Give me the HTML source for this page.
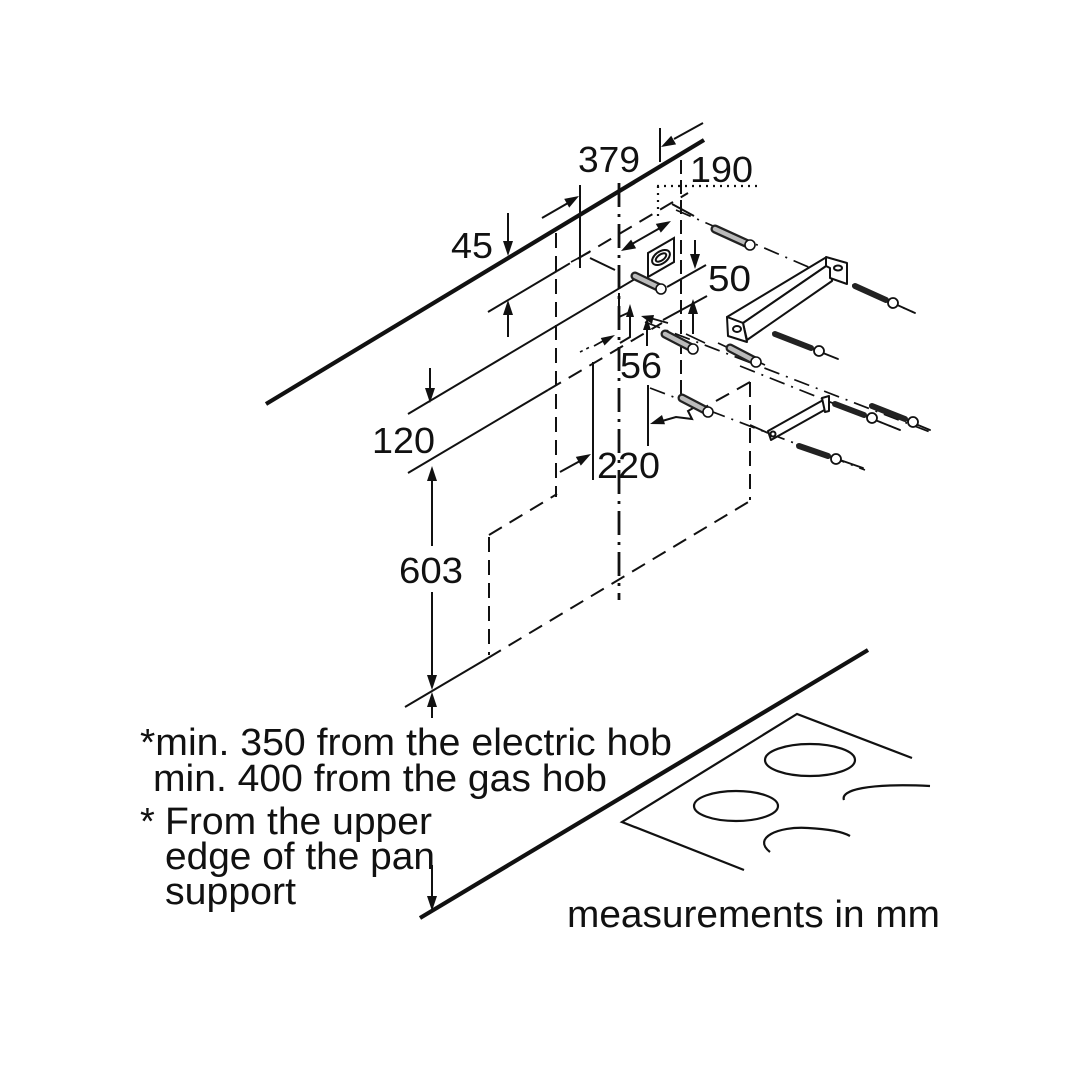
<!DOCTYPE html>
<html><head><meta charset="utf-8"><style>
html,body{margin:0;padding:0;background:#fff;}
svg{display:block;}
text{font-family:"Liberation Sans",Arial,sans-serif;fill:#111;}
</style></head><body>
<svg width="1080" height="1080" viewBox="0 0 1080 1080" xmlns="http://www.w3.org/2000/svg">
<rect width="1080" height="1080" fill="#fff"/>
<g stroke="#111" fill="none" stroke-linecap="butt">
<!-- thick wall & counter -->
<line x1="266" y1="404" x2="704" y2="140" stroke-width="4.2"/>
<line x1="420" y1="918" x2="868" y2="650" stroke-width="4.2"/>

<!-- wall horizontal lines -->
<line x1="488" y1="312" x2="557" y2="271" stroke-width="2"/>
<line x1="557" y1="271" x2="688" y2="193" stroke-width="2" stroke-dasharray="15,9"/>
<line x1="408" y1="414" x2="640" y2="276" stroke-width="2"/>
<line x1="667" y1="287" x2="706" y2="265" stroke-width="2"/>
<line x1="663" y1="320" x2="707" y2="296" stroke-width="2"/>
<line x1="408" y1="473" x2="548" y2="390" stroke-width="2"/>
<line x1="548" y1="390" x2="662" y2="323" stroke-width="2" stroke-dasharray="15,9"/>
<line x1="405" y1="707" x2="488" y2="658" stroke-width="2"/>

<!-- canopy dashed -->
<line x1="488" y1="658" x2="750" y2="501" stroke-width="2" stroke-dasharray="15,9"/>
<line x1="489" y1="537" x2="489" y2="655" stroke-width="2" stroke-dasharray="15,8"/>
<line x1="489" y1="535" x2="557" y2="494" stroke-width="2" stroke-dasharray="15,9"/>
<line x1="556" y1="233" x2="556" y2="497" stroke-width="2" stroke-dasharray="15,8"/>
<line x1="750" y1="382" x2="750" y2="500" stroke-width="2" stroke-dasharray="15,8"/>
<line x1="750" y1="382" x2="700" y2="410" stroke-width="2" stroke-dasharray="15,9"/>
<line x1="681" y1="160" x2="681" y2="402" stroke-width="2" stroke-dasharray="14,6"/>
<line x1="750" y1="425" x2="768" y2="433" stroke-width="1.8"/>

<!-- center axis -->
<line x1="619" y1="183" x2="619" y2="600" stroke-width="2.8" stroke-dasharray="24,7,3,7"/>

<!-- dotted 190 -->
<line x1="657" y1="186" x2="762" y2="186" stroke-width="2.2" stroke-dasharray="2,5"/>
<line x1="658" y1="186" x2="658" y2="216" stroke-width="2.2" stroke-dasharray="2,5"/>

<!-- 379 extension lines -->
<line x1="580" y1="185" x2="580" y2="268" stroke-width="2"/>
<line x1="660" y1="128" x2="660" y2="162" stroke-width="2"/>
<line x1="542" y1="218" x2="568" y2="203" stroke-width="2"/>
<line x1="703" y1="123" x2="674" y2="139" stroke-width="2"/>
<!-- small depth ticks -->
<line x1="590" y1="258" x2="615" y2="270" stroke-width="2"/>
<line x1="672" y1="204" x2="694" y2="216" stroke-width="2"/>
<line x1="571" y1="262" x2="590" y2="252" stroke-width="1.6"/>
<!-- double arrow -->
<line x1="632" y1="244" x2="660" y2="228" stroke-width="2"/>

<!-- dimension stems -->
<line x1="508" y1="213" x2="508" y2="243" stroke-width="2"/>
<line x1="508" y1="313" x2="508" y2="337" stroke-width="2"/>
<line x1="695" y1="240" x2="695" y2="256" stroke-width="2"/>
<line x1="693" y1="312" x2="693" y2="334" stroke-width="2"/>
<line x1="686" y1="334" x2="705" y2="343" stroke-width="1.6"/>
<line x1="430" y1="368" x2="430" y2="390" stroke-width="2"/>
<line x1="432" y1="479" x2="432" y2="546" stroke-width="2"/>
<line x1="432" y1="592" x2="432" y2="677" stroke-width="2"/>
<line x1="432" y1="705" x2="432" y2="718" stroke-width="2"/>
<line x1="432" y1="865" x2="432" y2="898" stroke-width="2"/>

<!-- 220 / 56 details -->
<line x1="593" y1="362" x2="593" y2="480" stroke-width="2"/>
<line x1="560" y1="472" x2="580" y2="461" stroke-width="2"/>
<line x1="648" y1="385" x2="648" y2="446" stroke-width="2"/>
<path d="M700,404 L688,411 L692,419 L676,417 L662,421" stroke-width="2"/>
<path d="M619,293 L619,317 L630,312 L630,337 L620,343" stroke-width="2"/>
<line x1="647" y1="329" x2="647" y2="346" stroke-width="2"/>
<line x1="650" y1="318" x2="668" y2="323" stroke-width="1.8"/>
<line x1="594" y1="346" x2="603" y2="341" stroke-width="1.8"/>
<line x1="580" y1="352" x2="592" y2="346" stroke-width="1.6" stroke-dasharray="3,4"/>

<!-- depth dash-dot lines -->
<line x1="676" y1="210" x2="913" y2="312" stroke-width="1.7" stroke-dasharray="16,7,2,7"/>
<line x1="645" y1="322" x2="930" y2="432" stroke-width="1.7" stroke-dasharray="16,7,2,7"/>
<line x1="740" y1="366" x2="900" y2="430" stroke-width="1.7" stroke-dasharray="16,7,2,7"/>
<line x1="650" y1="388" x2="865" y2="470" stroke-width="1.7" stroke-dasharray="16,7,2,7"/>
<line x1="718" y1="343" x2="765" y2="365" stroke-width="1.7"/>
</g>

<!-- arrowheads -->
<g fill="#111" stroke="none">
<polygon points="508,256 503,241 513,241"/>
<polygon points="508,300 503,315 513,315"/>
<polygon points="579,196 569.2,207.6 564.2,198.9"/>
<polygon points="661,147 676.1,144.4 671.2,135.7"/>
<polygon points="671,221 660.8,232.6 655.8,223.9"/>
<polygon points="621,251 636.1,248.3 631.1,239.6"/>
<polygon points="695,269 690,254 700,254"/>
<polygon points="693,299 688,314 698,314"/>
<polygon points="430,403 425,388 435,388"/>
<polygon points="432,466 427,481 437,481"/>
<polygon points="432,690 427,675 437,675"/>
<polygon points="432,692 427,707 437,707"/>
<polygon points="432,911 427,896 437,896"/>
<polygon points="591,454 580.8,465.6 575.8,456.9"/>
<polygon points="650,424 665,424.2 662,415"/>
<polygon points="630,304 626,317 634,317"/>
<polygon points="647,318 643,330 651,330"/>
<polygon points="641,316 652,324 654,315"/>
<polygon points="615,335 604.5,345.5 600.8,338"/>
</g>

<!-- outlet -->
<g stroke="#111" fill="#fff" stroke-width="2">
<polygon points="648,253 674,238 674,262 648,277"/>
<ellipse cx="661" cy="257.5" rx="10" ry="6" transform="rotate(-35 661 257.5)"/>
<ellipse cx="661" cy="257.5" rx="6" ry="3" transform="rotate(-35 661 257.5)"/>
</g>

<!-- wall plugs -->
<g stroke-linecap="round">
<line x1="715" y1="229" x2="750" y2="245" stroke="#222" stroke-width="9"/>
<line x1="715" y1="229" x2="748" y2="244" stroke="#bbb" stroke-width="4.5"/>
<circle cx="750" cy="245" r="5" fill="#fff" stroke="#111" stroke-width="1.6"/>
<line x1="635" y1="276" x2="660" y2="288" stroke="#222" stroke-width="9"/>
<line x1="635" y1="276" x2="658" y2="287" stroke="#bbb" stroke-width="4.5"/>
<circle cx="661" cy="289" r="5" fill="#fff" stroke="#111" stroke-width="1.6"/>
<line x1="665" y1="334" x2="692" y2="348" stroke="#222" stroke-width="9"/>
<line x1="665" y1="334" x2="690" y2="347" stroke="#bbb" stroke-width="4.5"/>
<circle cx="693" cy="349" r="5" fill="#fff" stroke="#111" stroke-width="1.6"/>
<line x1="730" y1="348" x2="755" y2="361" stroke="#222" stroke-width="9"/>
<line x1="730" y1="348" x2="753" y2="360" stroke="#bbb" stroke-width="4.5"/>
<circle cx="756" cy="362" r="5" fill="#fff" stroke="#111" stroke-width="1.6"/>
<line x1="682" y1="398" x2="707" y2="411" stroke="#222" stroke-width="9"/>
<line x1="682" y1="398" x2="705" y2="410" stroke="#bbb" stroke-width="4.5"/>
<circle cx="708" cy="412" r="5" fill="#fff" stroke="#111" stroke-width="1.6"/>
</g>

<!-- screws -->
<g stroke-linecap="round">
<line x1="853" y1="285" x2="915" y2="313" stroke="#111" stroke-width="1.8"/>
<line x1="855" y1="286" x2="886" y2="300" stroke="#222" stroke-width="6"/>
<circle cx="893" cy="303" r="5" fill="#fff" stroke="#111" stroke-width="1.8"/>
<line x1="773" y1="333" x2="838" y2="359" stroke="#111" stroke-width="1.8"/>
<line x1="775" y1="334" x2="811" y2="348" stroke="#222" stroke-width="6"/>
<circle cx="819" cy="351" r="5" fill="#fff" stroke="#111" stroke-width="1.8"/>
<line x1="833" y1="403" x2="900" y2="430" stroke="#111" stroke-width="1.8"/>
<line x1="835" y1="404" x2="864" y2="415" stroke="#222" stroke-width="6"/>
<circle cx="872" cy="418" r="5" fill="#fff" stroke="#111" stroke-width="1.8"/>
<line x1="870" y1="405" x2="930" y2="430" stroke="#111" stroke-width="1.8"/>
<line x1="872" y1="406" x2="905" y2="419" stroke="#222" stroke-width="6"/>
<circle cx="913" cy="422" r="5" fill="#fff" stroke="#111" stroke-width="1.8"/>
<line x1="797" y1="445" x2="863" y2="468" stroke="#111" stroke-width="1.8"/>
<line x1="799" y1="446" x2="828" y2="456" stroke="#222" stroke-width="6"/>
<circle cx="836" cy="459" r="5" fill="#fff" stroke="#111" stroke-width="1.8"/>
</g>

<!-- upper bracket -->
<g stroke="#111" stroke-width="2" fill="#fff" stroke-linejoin="round">
<polygon points="727,317 825,258 832,262 743,323"/>
<polygon points="743,323 832,262 832,281 747,340"/>
<polygon points="826,257 847,263 847,284 830,278 830,268 826,266"/>
<polygon points="727,317 743,323 747,342 728,336"/>
<ellipse cx="737" cy="329" rx="4" ry="3" fill="none"/>
<ellipse cx="838" cy="268" rx="4" ry="2.5" fill="none"/>
<!-- lower bracket -->
<polygon points="768,431 825,399 828,408 771,440"/>
<polygon points="822,398 829,396 829,411 825,412"/>
<circle cx="773" cy="434" r="2.5" fill="none"/>
</g>

<!-- hob -->
<g stroke="#111" stroke-width="2.2" fill="none">
<polyline points="912,758 797,714 622,822 744,870"/>
<ellipse cx="810" cy="760" rx="45" ry="16"/>
<ellipse cx="736" cy="806" rx="42" ry="15"/>
<path d="M844,800 C840,790 868,783 930,786"/>
<path d="M770,852 C752,838 778,826 808,828 C828,829 843,832 850,836"/>
</g>

<!-- labels -->
<g font-size="36">
<text x="578" y="172" textLength="62" lengthAdjust="spacingAndGlyphs">379</text>
<text x="690" y="182" textLength="63" lengthAdjust="spacingAndGlyphs">190</text>
<text x="451" y="258" textLength="42" lengthAdjust="spacingAndGlyphs">45</text>
<text x="708" y="291" textLength="43" lengthAdjust="spacingAndGlyphs">50</text>
<text x="620" y="378" textLength="42" lengthAdjust="spacingAndGlyphs">56</text>
<text x="372" y="453" textLength="63" lengthAdjust="spacingAndGlyphs">120</text>
<text x="597" y="478" textLength="63" lengthAdjust="spacingAndGlyphs">220</text>
<text x="399" y="583" textLength="64" lengthAdjust="spacingAndGlyphs">603</text>
</g>
<g font-size="38">
<text x="140" y="755" textLength="532" lengthAdjust="spacingAndGlyphs">*min. 350 from the electric hob</text>
<text x="153" y="791" textLength="454" lengthAdjust="spacingAndGlyphs">min. 400 from the gas hob</text>
<text x="140" y="834">*</text>
<text x="165" y="834" textLength="267" lengthAdjust="spacingAndGlyphs">From the upper</text>
<text x="165" y="869" textLength="270" lengthAdjust="spacingAndGlyphs">edge of the pan</text>
<text x="165" y="904" textLength="131" lengthAdjust="spacingAndGlyphs">support</text>
<text x="567" y="927" textLength="373" lengthAdjust="spacingAndGlyphs">measurements in mm</text>
</g>
</svg>
</body></html>
